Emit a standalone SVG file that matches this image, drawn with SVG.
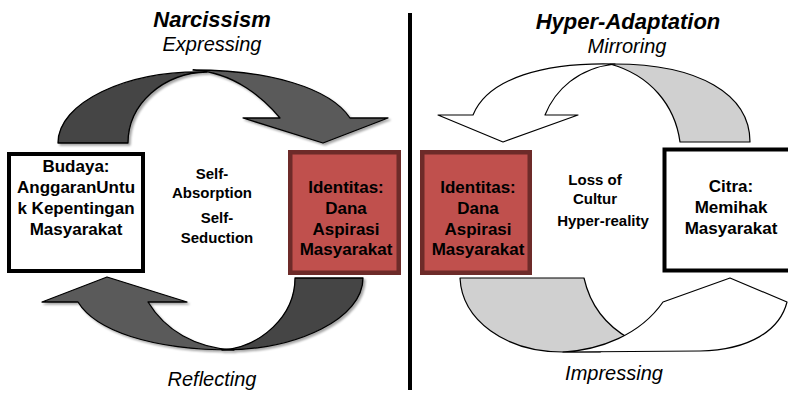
<svg xmlns="http://www.w3.org/2000/svg" width="788" height="393" viewBox="0 0 788 393">
<defs>
<filter id="sh" x="-10%" y="-10%" width="130%" height="130%">
<feDropShadow dx="2" dy="2" stdDeviation="1.2" flood-color="#000" flood-opacity="0.35"/>
</filter>
</defs>
<style>
text{font-family:"Liberation Sans",Arial,sans-serif;fill:#000;text-anchor:middle}
.title{font-size:22px;font-weight:bold;font-style:italic}
.sub{font-size:20px;font-style:italic}
.box{font-size:17px;font-weight:bold}
.mid{font-size:15px;font-weight:bold}
.wbox{fill:#fff;stroke:#000;stroke-width:4}
.rbox{fill:#C0504D;stroke:#6D2B29;stroke-width:4.5}
.dk{fill:#5A5A5A;stroke:#000;stroke-width:1.3;stroke-linejoin:round}
.dkt{fill:#444;stroke:#000;stroke-width:1.3;stroke-linejoin:round}
.lt{fill:#fff;stroke:#000;stroke-width:1.2;stroke-linejoin:round}
.ltt{fill:#D0D0D0;stroke:#000;stroke-width:1.2;stroke-linejoin:round}
</style>
<rect width="788" height="393" fill="#fff"/>

<g id="titles">
<text class="title" x="212" y="27">Narcissism</text>
<text class="sub" x="212" y="51">Expressing</text>
<text class="sub" x="212" y="386">Reflecting</text>
<text class="title" x="628" y="29">Hyper-Adaptation</text>
<text class="sub" x="627" y="53">Mirroring</text>
<text class="sub" x="614" y="380">Impressing</text>
</g>

<line id="divider" x1="410" y1="13" x2="410" y2="390" stroke="#000" stroke-width="4"/>

<g id="connectors">
<g id="arrow-expressing" filter="url(#sh)">
<path class="dkt" d="M58,143 L128,143 C128,104 163,73 207,72 C125,70 58,103 58,143 Z"/>
<path class="dk" d="M193,70 C270,70 330,88 350,118 L388,118 L323,143 L243,118 L280,118 C265,100 235,72 193,70 Z"/>
</g>
<g id="arrow-reflecting" filter="url(#sh)">
<path class="dkt" d="M295,278 L363,278 C363,318 299,350 222,350 C261,347 295,316 295,278 Z"/>
<path class="dk" d="M78,302 L42,302 L107,277 L187,302 L148,302 C165,330 195,348 234,350 C150,350 95,330 78,302 Z"/>
</g>
<g id="arrow-mirroring">
<path class="ltt" d="M680,142 C675,105 650,75 610,64 C700,63 750,95 750,142 Z"/>
<path class="lt" d="M473,115 L438,115 L503,142 L578,115 L545,115 C555,90 578,68 615,64 C545,62 488,78 473,115 Z"/>
</g>
<g id="arrow-impressing">
<path class="ltt" d="M460,278 L584,278 C590,305 605,325 630,339 L600,352 L563,352 C505,352 462,320 460,278 Z"/>
<path class="lt" d="M663,302 L730,278 L787,302 C780,330 750,350 700,351 L563,352 C600,350 640,335 663,302 Z"/>
</g>
</g>

<g id="node-budaya">
<rect class="wbox" x="9" y="154" width="134" height="117"/>
<text class="box" x="76" y="172">Budaya:</text>
<text class="box" x="76" y="193">AnggaranUntu</text>
<text class="box" x="76" y="214">k Kepentingan</text>
<text class="box" x="76" y="235">Masyarakat</text>
</g>

<g id="label-self">
<text class="mid" x="212" y="179">Self-</text>
<text class="mid" x="212" y="198">Absorption</text>
<text class="mid" x="217" y="223">Self-</text>
<text class="mid" x="217" y="243">Seduction</text>
</g>

<g id="node-identitas-left">
<rect class="rbox" x="290.25" y="152.25" width="108.5" height="120.5"/>
<text class="box" x="346" y="193">Identitas:</text>
<text class="box" x="346" y="214">Dana</text>
<text class="box" x="346" y="235">Aspirasi</text>
<text class="box" x="346" y="255">Masyarakat</text>
</g>

<g id="node-identitas-right">
<rect class="rbox" x="422.25" y="152.25" width="107.5" height="120.5"/>
<text class="box" x="478" y="193">Identitas:</text>
<text class="box" x="478" y="214">Dana</text>
<text class="box" x="478" y="235">Aspirasi</text>
<text class="box" x="478" y="255">Masyarakat</text>
</g>

<g id="label-loss">
<text class="mid" x="595" y="185">Loss of</text>
<text class="mid" x="595" y="204">Cultur</text>
<text class="mid" x="603" y="226">Hyper-reality</text>
</g>

<g id="node-citra">
<rect class="wbox" x="664.5" y="149.5" width="150" height="121" stroke-width="5"/>
<text class="box" x="731" y="192">Citra:</text>
<text class="box" x="731" y="213">Memihak</text>
<text class="box" x="731" y="234">Masyarakat</text>
</g>
</svg>
